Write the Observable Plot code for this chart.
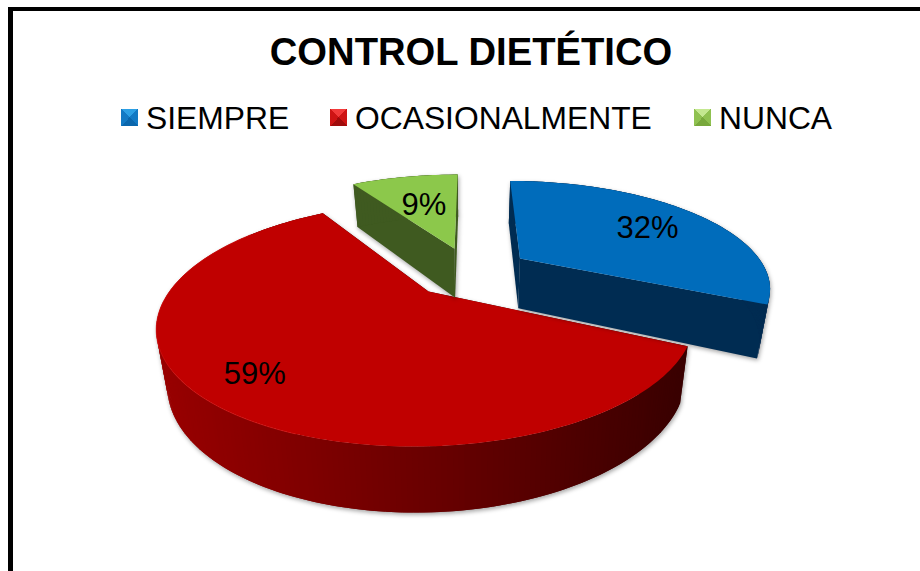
<!DOCTYPE html>
<html>
<head>
<meta charset="utf-8">
<script src="https://cdn.jsdelivr.net/npm/d3@7"></script>
<script src="https://cdn.jsdelivr.net/npm/@observablehq/plot@0.6"></script>
<style>
  html, body { margin: 0; padding: 0; background: #fff; overflow: hidden; }
  #frame { position: relative; width: 920px; height: 571px; box-sizing: border-box; font-family: "Liberation Sans", Arial, sans-serif; color: #000; }
  #frame::before { content: ""; position: absolute; left: 8px; top: 7px; right: 0; bottom: 0; border-left: 5px solid #000; border-top: 4px solid #000; z-index: 3; pointer-events: none; }
  #title { position: absolute; left: 0; width: 942px; top: 31px; text-align: center; font-weight: bold; font-size: 38.2px; line-height: 42px; white-space: nowrap; }
  .key { position: absolute; top: 100px; font-size: 31.8px; line-height: 36px; white-space: nowrap; }
  .sw { position: absolute; width: 17px; height: 17px; top: 109px; filter: blur(0.4px); }
  #chart { position: absolute; left: 0; top: 150px; }
  #chart svg { display: block; }
</style>
</head>
<body>
<div id="frame">
  <div id="title">CONTROL DIETÉTICO</div>
  <div id="legend"></div>
  <div id="chart"></div>
</div>
<script>
const titleText = "CONTROL DIETÉTICO";
const categories = ["SIEMPRE", "OCASIONALMENTE", "NUNCA"];
const values = [32, 59, 9];
const labels = ["32%", "59%", "9%"];
const topColors = ["#006CBB", "#C00000", "#8CC84B"];
const wallColors = ["#002C52", "#3A0000", "#3F5A20"];
const swatches = [
  ["#2C9FE4", "#1279C4", "#0A66AC"],
  ["#F23A3A", "#CE1414", "#A00C0C"],
  ["#C4E890", "#8FC150", "#78A83C"]
];
const labelReach = [0.684, 0.81, 0.565];
const labelTurn = [0.05, 0, 0];
const legendTextX = [146, 355, 719];
const legendSwatchX = [121, 330, 694];

// Oblique perspective of the pie plane
const cam = {xc: 470, yh: -135, alpha: 0.002462, beta: 0.000626, spreadX: 247, explode: 0.245, lift: 51, liftPow: 0.72, taper: 0.035};
const persp = (u, v) => {
  const w = 1 - (cam.beta / cam.alpha) * v;
  return {x: cam.xc + cam.spreadX * u / w, y: cam.yh + 1 / (cam.alpha - cam.beta * v), w};
};
const upper = (u, v) => { const p = persp(u, v); return [p.x, p.y]; };
const lower = (u, v) => {
  const p = persp(u, v);
  return [p.x + (cam.xc - p.x) * cam.taper, p.y + cam.lift * Math.pow(p.w, -cam.liftPow)];
};

const total = d3.sum(values);
let acc = 0;
const slices = categories.map((name, i) => {
  const a0 = acc / total * 2 * Math.PI;
  acc += values[i];
  const a1 = acc / total * 2 * Math.PI;
  const mid = (a0 + a1) / 2;
  return {i, name, a0, a1, mid, ou: cam.explode * Math.sin(mid), ov: -cam.explode * Math.cos(mid)};
});
const rim = (s, a) => [s.ou + Math.sin(a), s.ov - Math.cos(a)];

const topRows = [], sideRows = [];
const wallShade = d3.scaleLinear().domain([160, 420, 680]).range(["#980000", "#6C0000", "#3A0000"]).clamp(true);
const rank = [2, 0, 1];
for (const s of slices) {
  const n = Math.max(8, Math.round((s.a1 - s.a0) * 60));
  const angs = d3.range(n + 1).map(k => s.a0 + (s.a1 - s.a0) * k / n);
  // top face
  [[s.ou, s.ov], ...angs.map(a => rim(s, a))].forEach(([u, v]) => {
    const [x, y] = upper(u, v);
    topRows.push({id: s.i, x, y, c: topColors[s.i], order: rank[s.i]});
  });
  // cut faces
  [s.a0, s.a1].forEach((a, e) => {
    const [u, v] = rim(s, a);
    const id = `cut-${s.i}-${e}`;
    [upper(s.ou, s.ov), upper(u, v), lower(u, v), lower(s.ou, s.ov)].forEach(([x, y]) =>
      sideRows.push({id, x, y, c: wallColors[s.i], order: rank[s.i]}));
  });
  // outer wall, in short overlapping strips
  for (let k = 0; k < n; k++) {
    const [u0, v0] = rim(s, angs[k]);
    const [u1, v1] = rim(s, angs[Math.min(n, k + 2)]);
    const id = `wall-${s.i}-${k}`;
    const cx = upper(u0, v0)[0];
    const c = s.i === 1 ? wallShade(cx) : wallColors[s.i];
    [upper(u0, v0), upper(u1, v1), lower(u1, v1), lower(u0, v0)].forEach(([x, y]) =>
      sideRows.push({id, x, y, c, order: rank[s.i]}));
  }
}
const pick = (rows, o) => rows.filter(r => r.order === o);

const redEdge = d3.range(60, 135).map(k => {
  const s = slices[1];
  const a = s.a0 + (s.a1 - s.a0) * k / 150;
  const [u, v] = rim(s, a);
  const [x, y] = upper(u, v);
  return {x, y};
});

const labelRows = slices.map(s => {
  const r = labelReach[s.i];
  const a = s.mid + labelTurn[s.i];
  const [x, y] = upper(s.ou + r * Math.sin(a), s.ov - r * Math.cos(a));
  return {x, y, t: labels[s.i]};
});

const shadow = "drop-shadow(1px 2px 2px rgba(0,0,0,0.35))";
const layer = o => [
  Plot.line(pick(sideRows, o), {x: "x", y: "y", z: "id", fill: "c", stroke: "none", imageFilter: shadow}),
  Plot.line(pick(topRows, o), {x: "x", y: "y", z: "id", fill: "c", stroke: "none"})
];

const chart = Plot.plot({
  width: 920,
  height: 421,
  margin: 0,
  x: {domain: [0, 920], range: [0, 920], axis: null},
  y: {domain: [150, 571], range: [0, 421], axis: null},
  color: {type: "identity"},
  style: {background: "transparent"},
  marks: [
    ...layer(0),
    ...layer(1),
    ...layer(2),
    Plot.line(redEdge, {x: "x", y: "y", stroke: "#D81818", strokeWidth: 1, strokeOpacity: 0.6}),
    Plot.text(labelRows, {x: "x", y: "y", text: "t", fontSize: 31, fill: "#000", fontFamily: "Liberation Sans, Arial, sans-serif", textAnchor: "middle", lineAnchor: "middle"})
  ]
});
document.getElementById("chart").appendChild(chart);
document.getElementById("title").textContent = titleText;

const legend = document.getElementById("legend");
categories.forEach((name, i) => {
  const sw = document.createElement("div");
  sw.className = "sw";
  sw.style.left = legendSwatchX[i] + "px";
  const [hi, mid, lo] = swatches[i];
  sw.style.background = `conic-gradient(from -45deg, ${hi} 0 25%, ${mid} 25% 50%, ${lo} 50% 75%, ${mid} 75% 100%)`;
  legend.appendChild(sw);
  const t = document.createElement("div");
  t.className = "key";
  t.style.left = legendTextX[i] + "px";
  t.textContent = name;
  legend.appendChild(t);
});
</script>
</body>
</html>
